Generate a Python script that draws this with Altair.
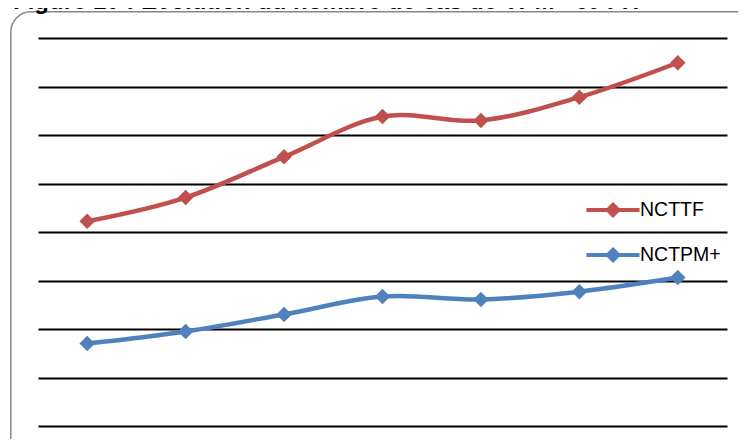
import altair as alt
import pandas as pd

# ---- data (axis values hidden in the original) ----
annees = ["2006", "2007", "2008", "2009", "2010", "2011", "2012"]
ncttf = [4.22, 4.71, 5.55, 6.38, 6.30, 6.78, 7.49]
nctpm = [1.70, 1.95, 2.30, 2.67, 2.61, 2.77, 3.06]
series = ["NCTTF", "NCTPM+"]
colors = ["#C0504D", "#4F81BD"]
grid_values = [0, 1, 2, 3, 4, 5, 6, 7, 8]
title_text = "Figure 10 : Evolution du nombre de cas de TPM+ et TTF"

df = pd.DataFrame({
    "annee": annees + annees,
    "valeur": ncttf + nctpm,
    "serie": [series[0]] * len(annees) + [series[1]] * len(annees),
})
one = pd.DataFrame({"k": [0]})

W, H = 689, 388

x_enc = alt.X("annee:O", sort=annees, scale=alt.Scale(type="point", padding=0.5), axis=None)
y_enc = alt.Y("valeur:Q", scale=alt.Scale(domain=[0, 8], nice=False, zero=False),
              axis=alt.Axis(values=grid_values, grid=True, gridColor="black", gridWidth=2,
                            labels=False, ticks=False, domain=False, title=None))

legend_path = ("M-1.77,0H1.77"
               "M0,-0.35L0.35,0L0,0.35L-0.35,0Z"
               "M0,-0.15L0.15,0L0,0.15L-0.15,0Z")

legend = alt.Legend(
    title=None, orient="none", legendX=558, legendY=155,
    symbolType=legend_path, symbolSize=900, symbolStrokeWidth=4,
    symbolOffset=0, padding=0, labelOffset=10, rowPadding=14,
    labelFont="Liberation Sans", labelFontSize=19.5, labelColor="black",
)

frame = alt.Chart(one).mark_rect(
    fill="transparent", stroke="#878787", strokeWidth=1.5, cornerRadius=20
).encode(x=alt.value(-27.2), x2=alt.value(720), y=alt.value(-26.2), y2=alt.value(440))

title = alt.Chart(one).mark_text(
    text=title_text, align="left", baseline="alphabetic", font="Liberation Sans",
    fontSize=24, fontWeight="bold", color="black"
).encode(x=alt.value(-25), y=alt.value(-29))

lines = alt.Chart(df).mark_line(strokeWidth=4.5, interpolate="cardinal").encode(
    x=x_enc, y=y_enc,
    stroke=alt.Stroke("serie:N", scale=alt.Scale(domain=series, range=colors), legend=legend),
)

points = alt.Chart(df).mark_point(shape="diamond", filled=True, size=240, opacity=1).encode(
    x=x_enc, y=y_enc,
    fill=alt.Fill("serie:N", scale=alt.Scale(domain=series, range=colors), legend=None),
)

chart = alt.layer(frame, title, lines, points).properties(
    width=W, height=H,
    autosize=alt.AutoSizeParams(type="none"),
    padding={"left": 30, "top": 30, "right": 11, "bottom": 13},
    background="white",
).configure_view(stroke=None)

chart.save("out.html", embed_options={"renderer": "svg", "actions": False})
